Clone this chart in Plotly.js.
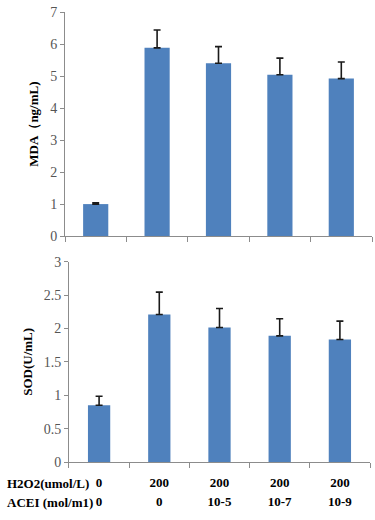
<!DOCTYPE html>
<html>
<head>
<meta charset="utf-8">
<script src="https://cdn.plot.ly/plotly-3.0.1.min.js"></script>
<style>html,body{margin:0;padding:0;background:#fff}#chart{width:375px;height:520px}</style>
</head>
<body>
<div id="chart"></div>
<script>
const groups = ["G1", "G2", "G3", "G4", "G5"];
const groupPos = [0, 1, 2, 3, 4];
const h2o2 = ["0", "200", "200", "200", "200"];
const acei = ["0", "0", "10-5", "10-7", "10-9"];
const mda = [1.0, 5.88, 5.40, 5.04, 4.92];
const mdaErr = [0.04, 0.56, 0.52, 0.52, 0.52];
const sod = [0.85, 2.21, 2.015, 1.89, 1.835];
const sodErr = [0.135, 0.335, 0.285, 0.255, 0.275];
const rowLabels = ["H2O2(umol/L)", "ACEI (mol/m1)"];

const barColor = "#4f81bd";
const serif = "Liberation Serif";
const errStyle = (arr) => ({type: "data", array: arr, symmetric: false, arrayminus: arr.map(() => 0),
  color: "#1a1a1a", thickness: 1.6, width: 3.5});

const traces = [
  {type: "bar", x: groups, y: mda, xaxis: "x", yaxis: "y", width: 0.41,
   marker: {color: barColor}, error_y: errStyle(mdaErr), hoverinfo: "skip"},
  {type: "bar", x: groups, y: sod, xaxis: "x2", yaxis: "y2", width: 0.37,
   marker: {color: barColor}, error_y: errStyle(sodErr), hoverinfo: "skip"},
  // carrier for the second row of category labels (ACEI), draws nothing
  {type: "scatter", mode: "none", x: groupPos, y: sod, xaxis: "x3", yaxis: "y2", hoverinfo: "skip"}
];

const tickFont = {family: serif, size: 14, color: "#555555"};
const boldFont = {family: serif, size: 13, color: "#000", weight: "bold"};
const axisCol = "#8c8c8c";

const xCommon = {
  type: "category", showline: true, linecolor: axisCol, linewidth: 1,
  ticks: "outside", tickson: "boundaries", ticklen: 5, tickcolor: axisCol,
  showgrid: false, zeroline: false, range: [-0.5, 4.5], fixedrange: true
};
const yCommon = {
  showline: true, linecolor: axisCol, linewidth: 1, ticks: "outside", ticklen: 4,
  tickcolor: axisCol, showgrid: false, zeroline: false, tickfont: tickFont, fixedrange: true
};

const layout = {
  width: 375, height: 520,
  margin: {l: 65, r: 3, t: 12, b: 58},
  paper_bgcolor: "#fff", plot_bgcolor: "#fff",
  showlegend: false,
  xaxis: Object.assign({}, xCommon, {domain: [0, 1], anchor: "y", showticklabels: false}),
  yaxis: Object.assign({}, yCommon, {domain: [0.502, 1], anchor: "x", range: [0, 7], dtick: 1,
    title: {text: "MDA（ng/mL)", font: boldFont, standoff: 8}}),
  xaxis2: Object.assign({}, xCommon, {domain: [0.013, 0.9935], anchor: "y2",
    tickvals: groups, ticktext: h2o2, ticklabelstandoff: 8, tickfont: boldFont}),
  xaxis3: {domain: [0.013, 0.9935], anchor: "y2", overlaying: "x2", side: "bottom",
    type: "linear", range: [-0.5, 4.5], showline: false, ticks: "", showgrid: false, zeroline: false,
    tickmode: "array", tickvals: groupPos, ticktext: acei, ticklabelstandoff: 30,
    tickfont: boldFont, fixedrange: true},
  yaxis2: Object.assign({}, yCommon, {domain: [0, 0.445], anchor: "x2", range: [0, 3], dtick: 0.5,
    title: {text: "SOD(U/mL)", font: boldFont, standoff: 8}}),
  annotations: rowLabels.map((t, i) => ({
    text: t, xref: "paper", yref: "paper", x: -0.195, y: i === 0 ? -0.0467 : -0.091,
    xanchor: "left", yanchor: "middle", showarrow: false, font: boldFont
  }))
};

Plotly.newPlot("chart", traces, layout, {displayModeBar: false, staticPlot: true});
</script>
</body>
</html>
